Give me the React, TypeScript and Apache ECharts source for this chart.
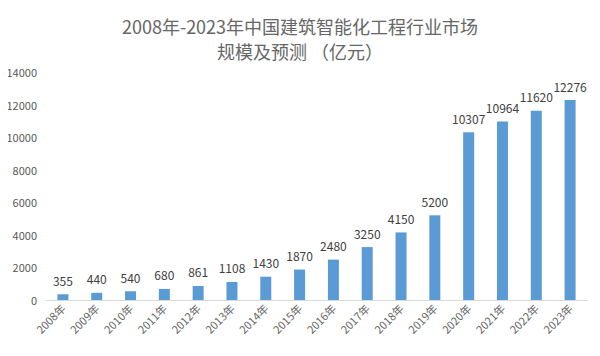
import React, { useEffect, useRef } from "react";
import * as echarts from "echarts";

const categories = ["2008年","2009年","2010年","2011年","2012年","2013年","2014年","2015年","2016年","2017年","2018年","2019年","2020年","2021年","2022年","2023年"];
const values = [355, 440, 540, 680, 861, 1108, 1430, 1870, 2480, 3250, 4150, 5200, 10307, 10964, 11620, 12276];
const titleLines = ["2008年-2023年中国建筑智能化工程行业市场", "规模及预测 （亿元）"];

export default function App() {
  const ref = useRef<HTMLDivElement>(null);
  useEffect(() => {
    const chart = echarts.init(ref.current!, null, { renderer: "svg" });
    const font = "'Noto Sans CJK SC', 'Noto Sans', sans-serif";
    chart.setOption({
      animation: false,
      backgroundColor: "#ffffff",
      title: {
        text: titleLines.join("\n"),
        left: "center",
        top: 8,
        textStyle: { fontFamily: font, fontSize: 18, fontWeight: "normal", color: "#666666", lineHeight: 25 },
      },
      grid: { left: 46, right: 13, top: 72, bottom: 56 },
      xAxis: {
        type: "category",
        data: categories,
        axisLine: { lineStyle: { color: "#d9d9d9" } },
        axisTick: { show: false },
        axisLabel: { rotate: 45, interval: 0, color: "#666666", fontSize: 11, fontFamily: font, margin: 6 },
      },
      yAxis: {
        type: "value",
        min: 0,
        max: 14000,
        interval: 2000,
        splitLine: { show: false },
        axisLine: { show: false },
        axisTick: { show: false },
        axisLabel: { color: "#595959", fontSize: 11, fontFamily: font, margin: 9, formatter: (v: number) => String(v) },
      },
      series: [
        {
          type: "bar",
          data: values,
          barWidth: 11,
          itemStyle: { color: "#5B9BD5" },
          label: { show: true, position: "top", distance: 8, color: "#404040", fontSize: 12, fontFamily: font },
        },
      ],
    });
    return () => chart.dispose();
  }, []);
  return <div ref={ref} style={{ width: 600, height: 356, margin: -8 }} />;
}
